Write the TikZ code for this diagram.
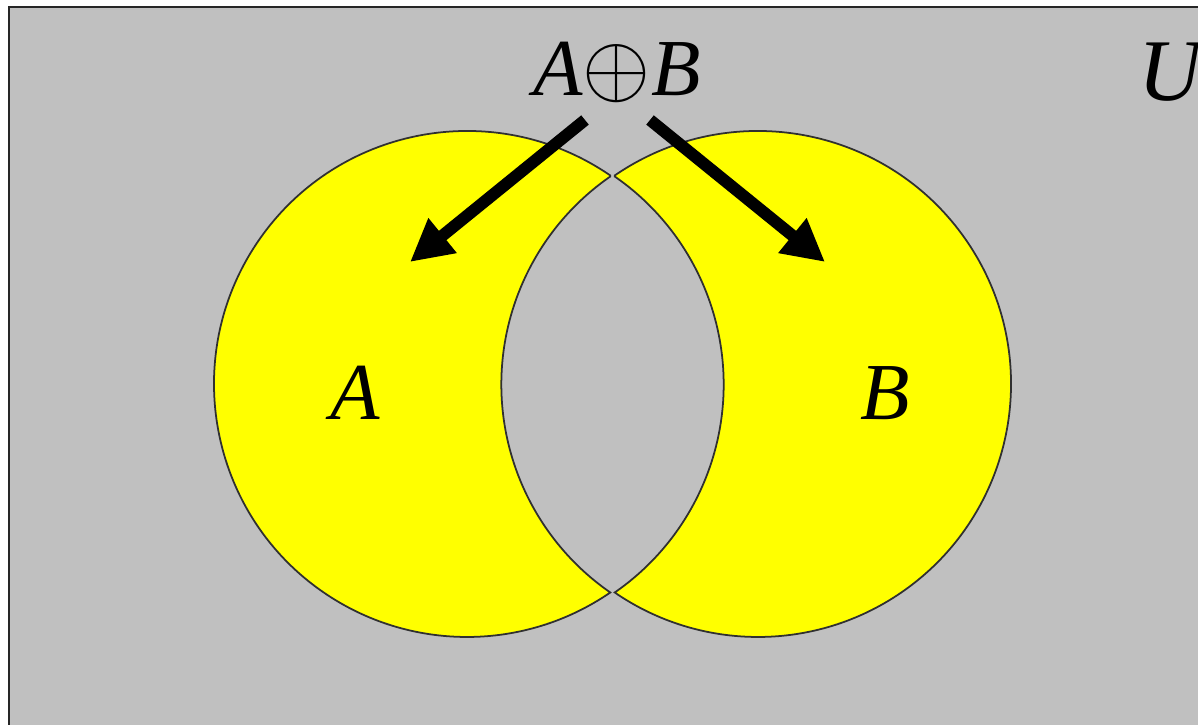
\documentclass[tikz,border=0pt]{standalone}
\usepackage{fontspec}
\setmainfont{Liberation Serif}
\usetikzlibrary{arrows.meta}
\definecolor{bggray}{HTML}{C0C0C0}
\definecolor{venny}{HTML}{FFFF00}
\definecolor{edgegray}{HTML}{303030}
\begin{document}
\begin{tikzpicture}[x=0.01cm,y=0.01cm,
  lune/.style={fill=venny,draw=edgegray,line width=0.5pt},
  bigarrow/.style={line width=3.4pt,-{Triangle[length=0.42cm,width=0.42cm]}},
  setlabel/.style={font=\fontsize{23}{23}\selectfont\itshape,inner sep=0pt}]
\useasboundingbox (0,0) rectangle (1198,725);
\clip (0,0) rectangle (1198,725);
\draw[fill=bggray,draw=black!85,line width=0.6pt] (9,-10) rectangle (1210,718);
% left lune
\draw[lune] (467,341) ++(55.5:253) arc[start angle=55.5,end angle=304.5,radius=253]
  arc[start angle=235.3,end angle=124.7,radius=253] -- cycle;
% right lune
\draw[lune] (758,341) ++(124.5:253) arc[start angle=124.5,end angle=-124.5,radius=253]
  arc[start angle=-55.3,end angle=55.3,radius=253] -- cycle;
\node[setlabel] (sym) at (617,653) {A{\normalfont\fontsize{24}{24}\selectfont$\oplus$}B};
\node[setlabel,font=\fontsize{25}{25}\selectfont\itshape] (U) at (1170,653) {U};
\node[setlabel] (A) at (355,332) {A};
\node[setlabel] (B) at (885,332) {B};
\coordinate (ls) at (585,605);
\coordinate (lt) at (410,463);
\coordinate (rs) at (650,605);
\coordinate (rt) at (825,463);
\draw[bigarrow] (ls) -- (lt);
\draw[bigarrow] (rs) -- (rt);
\end{tikzpicture}
\end{document}
